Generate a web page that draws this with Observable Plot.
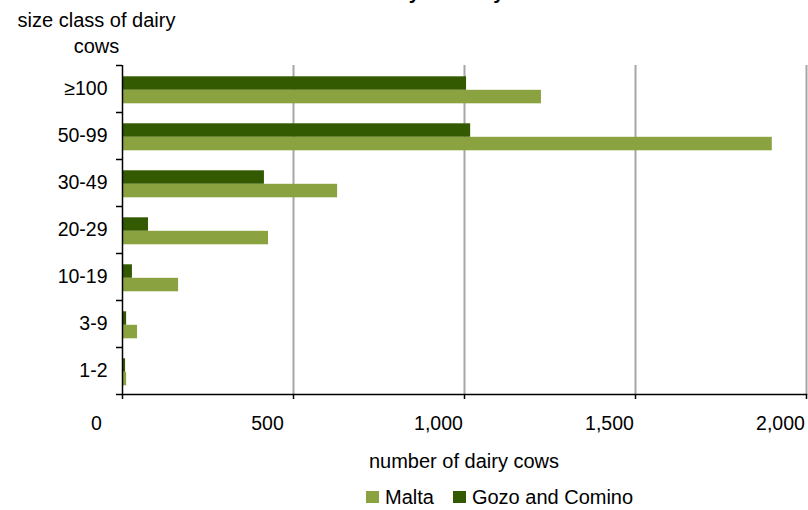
<!DOCTYPE html>
<html>
<head>
<meta charset="utf-8">
<script src="https://cdn.jsdelivr.net/npm/d3@7"></script>
<script src="https://cdn.jsdelivr.net/npm/@observablehq/plot@0.6"></script>
<style>
  html, body { margin: 0; padding: 0; background: #fff; }
  body { width: 808px; height: 510px; position: relative; overflow: hidden; font-family: "Liberation Sans", Arial, sans-serif; color: #000; }
  .lbl { position: absolute; font-size: 20px; line-height: 20px; white-space: nowrap; }
  #title { font-weight: bold; top: -18px; left: 0; width: 870px; text-align: center; }
  #ylab { top: 7px; left: 0; width: 193px; text-align: center; line-height: 26px; }
  #xlab { top: 451px; left: 122px; width: 684px; text-align: center; }
  #legend { top: 487px; left: 366px; display: flex; }
  .key { display: inline-flex; align-items: center; margin-right: 19px; }
  .sw { width: 13px; height: 12px; display: inline-block; margin-right: 6px; }
  #chart { position: absolute; left: 0; top: 0; }
</style>
</head>
<body>
<div id="title" class="lbl">Number of dairy cows by size class</div>
<div id="ylab" class="lbl">size class of dairy<br>cows</div>
<div id="chart"></div>
<div id="xlab" class="lbl">number of dairy cows</div>
<div id="legend" class="lbl"></div>
<script>
const categories = ["≥100", "50-99", "30-49", "20-29", "10-19", "3-9", "1-2"];
const malta = [1225, 1900, 629, 427, 164, 44, 12];
const gozo = [1006, 1018, 415, 76, 29, 12, 9];
const seriesNames = ["Malta", "Gozo and Comino"];
const xTicks = [0, 500, 1000, 1500, 2000];

const colors = { "Malta": "#8ba240", "Gozo and Comino": "#335a00" };
const table = categories.map((c, i) => ({ cat: c, malta: malta[i], gozo: gozo[i] }));
const fmt = d3.format(",");

const chart = Plot.plot({
  width: 808,
  height: 510,
  marginTop: 65,
  marginBottom: 116,
  marginLeft: 122,
  marginRight: 2,
  style: { fontFamily: "'Liberation Sans', Arial, sans-serif", fontSize: "19.5px", color: "#000", background: "transparent" },
  x: { domain: [0, 2000] },
  y: { domain: categories, padding: 0 },
  marks: [
    Plot.gridX(xTicks.filter(d => d > 0), { stroke: "#a6a6a6", strokeOpacity: 1, strokeWidth: 2 }),
    Plot.barX(table, { y: "cat", x: "gozo", fill: colors["Gozo and Comino"], insetTop: 11.3, insetBottom: 22.2 }),
    Plot.barX(table, { y: "cat", x: "malta", fill: colors["Malta"], insetTop: 24.8, insetBottom: 8.7 }),
    Plot.ruleX([0], { stroke: "#000", strokeWidth: 1.5 }),
    Plot.frame({ anchor: "bottom", stroke: "#000", strokeWidth: 1.5 }),
    Plot.axisY({ tickSize: 0, tickPadding: 15, label: null }),
    Plot.axisY({ tickFormat: () => "", tickSize: 6, dy: -23.5, label: null, strokeWidth: 1.5 }),
    Plot.axisY({ ticks: ["1-2"], tickFormat: () => "", tickSize: 6, dy: 23.5, label: null, strokeWidth: 1.5 }),
    Plot.axisX({ ticks: xTicks, tickFormat: () => "", tickSize: 5, label: null, strokeWidth: 1.5 }),
    Plot.axisX({ ticks: xTicks, tickFormat: fmt, tickSize: 0, tickPadding: 21.5, dx: -26, label: null })
  ]
});
document.getElementById("chart").appendChild(chart);

const legend = document.getElementById("legend");
seriesNames.forEach(n => {
  const k = document.createElement("span");
  k.className = "key";
  k.innerHTML = `<span class="sw" style="background:${colors[n]}"></span>${n}`;
  legend.appendChild(k);
});
</script>
</body>
</html>
